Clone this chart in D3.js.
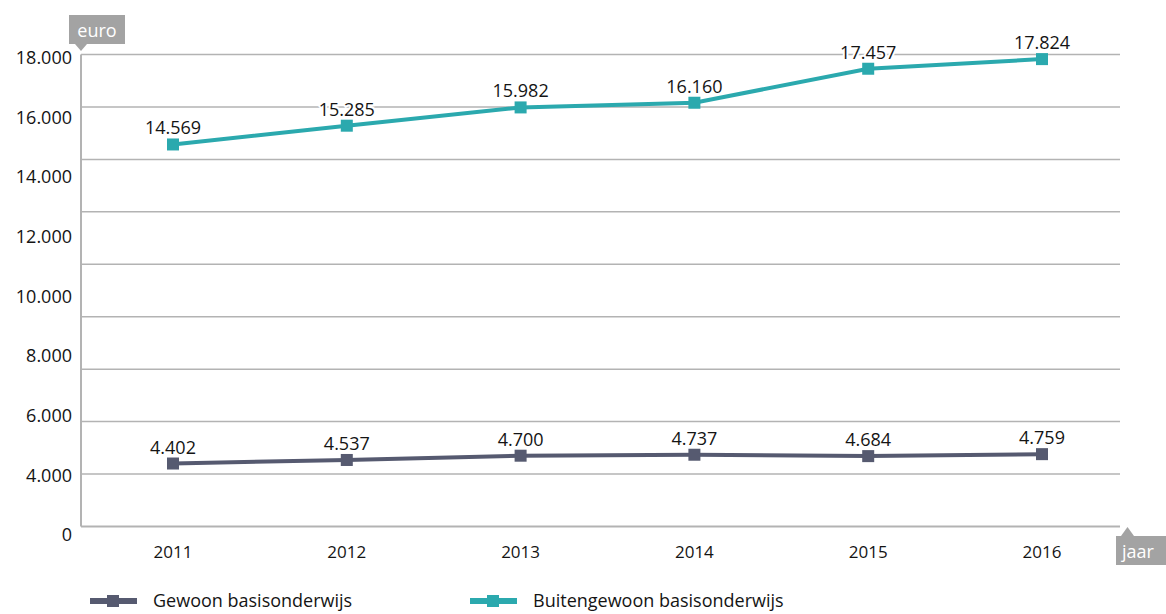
<!DOCTYPE html>
<html lang="nl">
<head>
    <meta charset="utf-8">
    <title>Werkingsmiddelen per leerling</title>
    <script src="https://cdn.jsdelivr.net/npm/d3@7"></script>
    <style>
        body { margin: 0; background: #fff; }
        svg text { font-family: "Open Sans", "Noto Sans", sans-serif; fill: #141414; }
    </style>
</head>
<body>

<div id="chart"></div>

<script>
    // data
    const years = ["2011", "2012", "2013", "2014", "2015", "2016"];
    const gewoon = [4402, 4537, 4700, 4737, 4684, 4759];
    const buitengewoon = [14569, 15285, 15982, 16160, 17457, 17824];
    const seriesNames = ["Gewoon basisonderwijs", "Buitengewoon basisonderwijs"];
    const seriesColors = ["#565a70", "#2ba9ae"];
    const yTickLabels = ["0", "4.000", "6.000", "8.000", "10.000", "12.000", "14.000", "16.000", "18.000"];

    const fmt = v => d3.format(",")(v).replace(/,/g, ".");

    const W = 1166, H = 614;
    const plotLeft = 81, plotRight = 1120, plotTop = 54.5, plotBottom = 526.5;

    const svg = d3.select("#chart")
        .append("svg")
            .attr("width", W)
            .attr("height", H);

    // gridline index -> pixel (10 evenly spaced lines)
    const grid = d3.scaleLinear().domain([0, 9]).range([plotBottom, plotTop]);

    // broken value axis: the gridlines do not follow one linear scale
    const y = d3.scaleLinear()
        .domain([0, 4000, 6000, 14000, 18000])
        .range([0, 1, 2, 7, 9].map(grid));

    const x = d3.scalePoint()
        .domain(years)
        .range([173, 1042]);

    // tick labels on the left are evenly spread, independent of the grid
    const yLab = d3.scalePoint()
        .domain(yTickLabels)
        .range([535, 57.5]);

    // gridlines
    svg.append("g")
        .selectAll("line")
        .data(d3.range(1, 10))
        .enter()
        .append("line")
            .attr("x1", plotLeft)
            .attr("x2", plotRight)
            .attr("y1", d => grid(d))
            .attr("y2", d => grid(d))
            .attr("stroke", "#b3b3b3")
            .attr("stroke-width", 1.5);

    // axis lines
    svg.append("line")
        .attr("x1", plotLeft).attr("x2", plotRight)
        .attr("y1", plotBottom).attr("y2", plotBottom)
        .attr("stroke", "#b3b3b3").attr("stroke-width", 2);
    svg.append("line")
        .attr("x1", plotLeft).attr("x2", plotLeft)
        .attr("y1", plotTop).attr("y2", plotBottom)
        .attr("stroke", "#b3b3b3").attr("stroke-width", 2);

    // y tick labels
    svg.append("g")
        .selectAll("text")
        .data(yTickLabels)
        .enter()
        .append("text")
            .attr("x", 72)
            .attr("y", d => yLab(d))
            .attr("dy", "0.36em")
            .attr("text-anchor", "end")
            .style("font-size", "18px")
            .text(d => d);

    // x tick labels
    svg.append("g")
        .selectAll("text")
        .data(years)
        .enter()
        .append("text")
            .attr("x", d => x(d))
            .attr("y", 552)
            .attr("dy", "0.36em")
            .attr("text-anchor", "middle")
            .style("font-size", "17px")
            .text(d => d);

    // unit tags
    svg.append("rect").attr("x", 69).attr("y", 15).attr("width", 56).attr("height", 29).attr("fill", "#a3a3a3");
    svg.append("path").attr("d", "M75,44 L87,44 L81,51 Z").attr("fill", "#a3a3a3");
    svg.append("text").attr("x", 97).attr("y", 37).attr("text-anchor", "middle")
        .style("font-size", "18px").style("fill", "#fff").text("euro");

    svg.append("rect").attr("x", 1116).attr("y", 536).attr("width", 50).attr("height", 29).attr("fill", "#a3a3a3");
    svg.append("path").attr("d", "M1121,536 L1134,536 L1127.5,527 Z").attr("fill", "#a3a3a3");
    svg.append("text").attr("x", 1138).attr("y", 558).attr("text-anchor", "middle")
        .style("font-size", "18px").style("fill", "#fff").text("jaar");

    // series
    const series = [gewoon, buitengewoon];
    const line = d3.line()
        .x((d, i) => x(years[i]))
        .y(d => y(d));

    series.forEach((values, s) => {
        const g = svg.append("g");

        g.append("path")
            .datum(values)
            .attr("d", line)
            .attr("fill", "none")
            .attr("stroke", seriesColors[s])
            .attr("stroke-width", 4);

        g.selectAll("rect")
            .data(values)
            .enter()
            .append("rect")
                .attr("x", (d, i) => x(years[i]) - 6)
                .attr("y", d => y(d) - 6)
                .attr("width", 12)
                .attr("height", 12)
                .attr("fill", seriesColors[s]);

        g.selectAll("text")
            .data(values)
            .enter()
            .append("text")
                .attr("x", (d, i) => x(years[i]))
                .attr("y", d => y(d) - 10)
                .attr("text-anchor", "middle")
                .style("font-size", "18px")
                .style("stroke", "#fff")
                .style("stroke-width", 4)
                .style("paint-order", "stroke")
                .text(d => fmt(d));
    });

    // legend
    const legendX = [90, 470];
    const legend = svg.append("g")
        .selectAll("g")
        .data(seriesNames)
        .enter()
        .append("g")
            .attr("transform", (d, i) => `translate(${legendX[i]}, 601)`);

    legend.append("line")
        .attr("x1", 0).attr("x2", 47)
        .attr("y1", 0).attr("y2", 0)
        .attr("stroke", (d, i) => seriesColors[i])
        .attr("stroke-width", 6);

    legend.append("rect")
        .attr("x", 17).attr("y", -6)
        .attr("width", 12).attr("height", 12)
        .attr("fill", (d, i) => seriesColors[i]);

    legend.append("text")
        .attr("x", 63)
        .attr("y", 6)
        .style("font-size", "18px")
        .text(d => d);
</script>

</body>
</html>
